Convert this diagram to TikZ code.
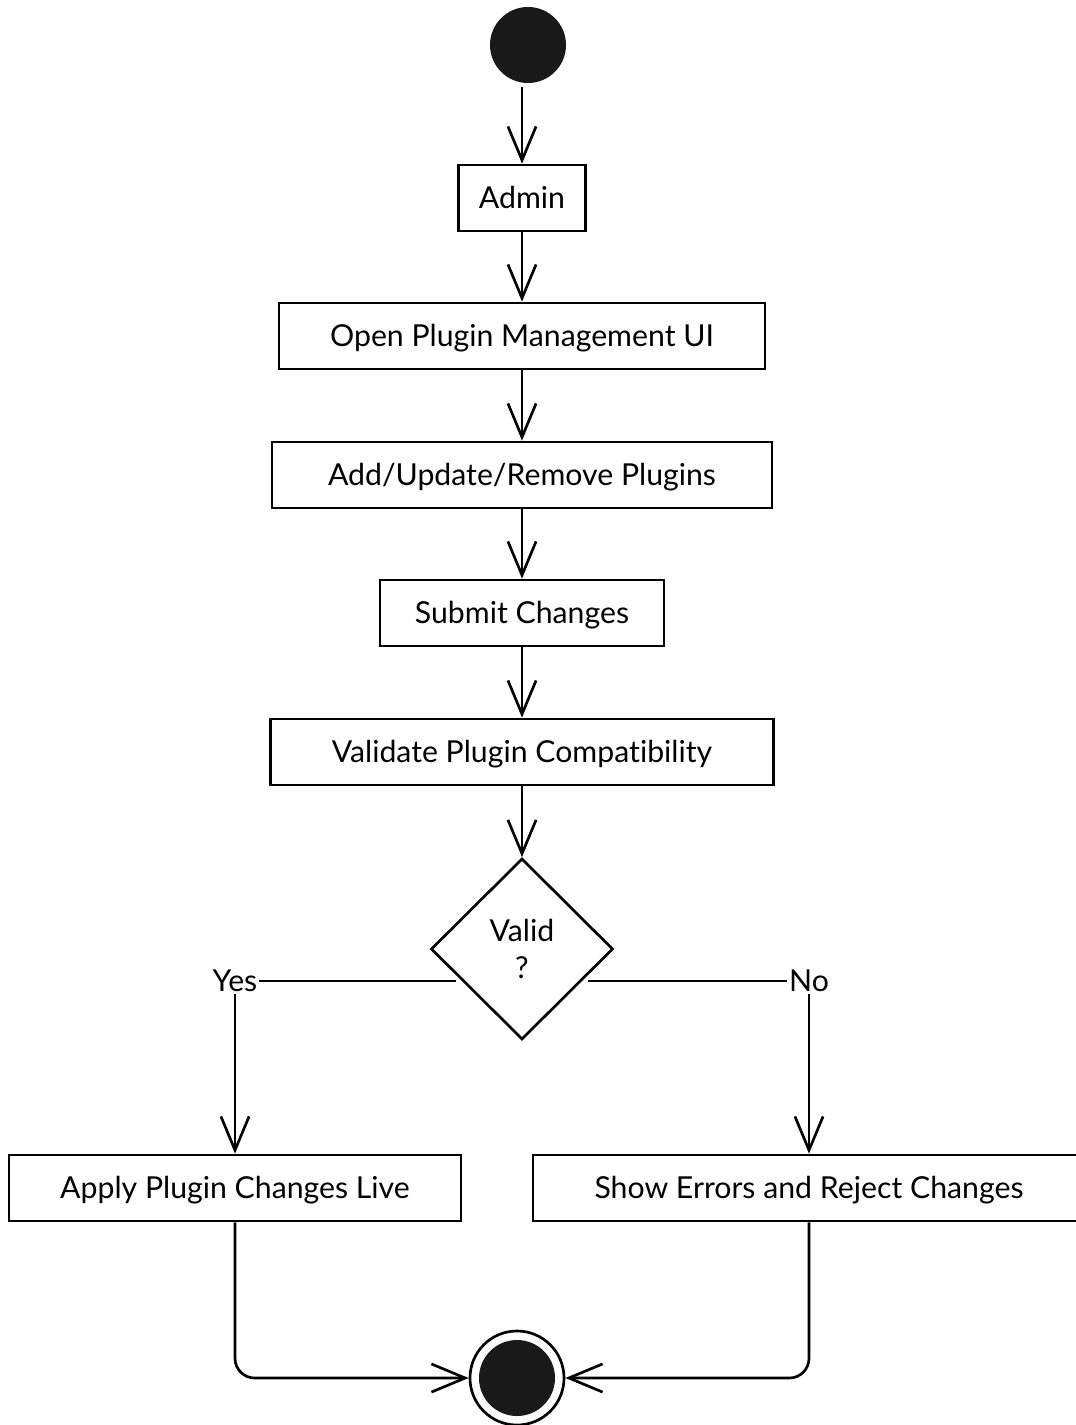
\documentclass[tikz,border=0pt]{standalone}
\usepackage{fontspec}
\setmainfont{Lato}[Ligatures={NoCommon}]
\usepackage{tikz}
\usetikzlibrary{arrows.meta, shapes.geometric, calc}

\tikzset{
  act/.style={draw, line width=1.9pt, minimum height=1.65cm, inner sep=0pt, text depth=0.05cm, font=\fontsize{21.5}{25}\selectfont},
  arr/.style={-{Straight Barb[length=24pt, width=20pt, line width=1.9pt]}, line width=1.9pt},
  link/.style={line width=1.9pt},
  guard/.style={inner sep=1pt, font=\fontsize{21.5}{25}\selectfont}
}

\begin{document}
\begin{tikzpicture}[x=0.025cm, y=-0.025cm]
  \useasboundingbox (0,0) rectangle (1076,1425);
  % Start node
  \node[circle, fill=black!90, minimum size=1.9cm, inner sep=0pt] (start) at (528,45) {};
  % Activities
  \node[act, minimum width=3.175cm] (admin) at (522,198) {Admin};
  \node[act, minimum width=12.15cm] (openui) at (522,336) {Open Plugin Management UI};
  \node[act, minimum width=12.5cm] (modify) at (522,475) {Add/Update/Remove Plugins};
  \node[act, minimum width=7.1cm] (submit) at (522,613) {Submit Changes};
  \node[act, minimum width=12.575cm] (validate) at (522,752) {Validate Plugin Compatibility};
  % Decision
  \node[diamond, draw, line width=1.9pt, minimum width=4.55cm, minimum height=4.525cm, inner sep=0pt,
        align=center, font=\fontsize{21.5}{26}\selectfont] (valid) at (522,949) {Valid\\?};
  \node[guard] (yes) at (235,981) {Yes};
  \node[guard] (no) at (809,981) {No};
  \node[act, minimum width=11.3cm] (apply) at (235,1188) {Apply Plugin Changes Live};
  \node[act, minimum width=13.8cm] (reject) at (809,1188) {Show Errors and Reject Changes};
  % End node
  \node[circle, draw, line width=1.9pt, minimum size=2.35cm, inner sep=0pt] (final) at (517,1378) {};
  \node[circle, fill=black!90, minimum size=1.9cm, inner sep=0pt] (finaldot) at (final) {};

  % Flow
  \draw[arr] (start.south -| admin) ++(0,4) -- (admin);
  \draw[arr] (admin) -- (openui);
  \draw[arr] (openui) -- (modify);
  \draw[arr] (modify) -- (submit);
  \draw[arr] (submit) -- (validate);
  \draw[arr] (validate) -- (valid);
  % Branches
  \draw[link] ($(valid.west)+(26,32)$) -- (yes.east);
  \draw[link] ($(valid.east)+(-26,32)$) -- (no.west);
  \draw[arr] (yes.south) -- (apply);
  \draw[arr] (no.south) -- (reject);
  % Merge into end
  \draw[arr, rounded corners=14pt] (apply.south) |- (final.west);
  \draw[arr, rounded corners=14pt] (reject.south) |- (final.east);
\end{tikzpicture}
\end{document}
